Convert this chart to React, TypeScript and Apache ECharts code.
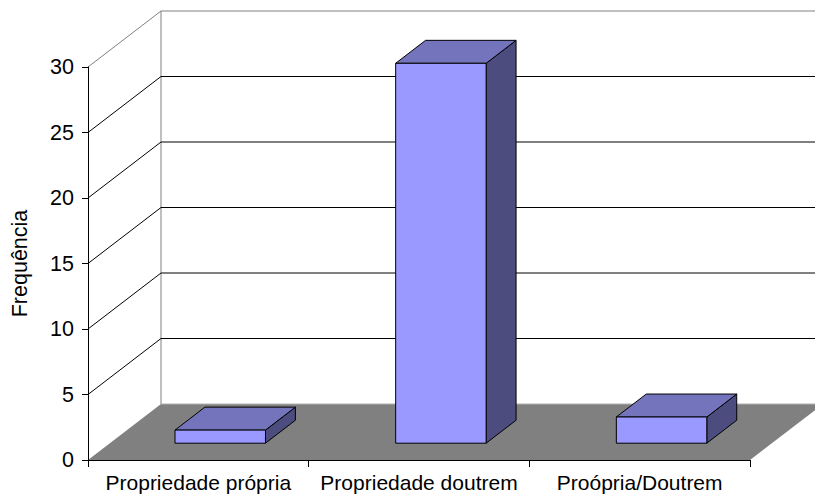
import React, { useEffect, useRef } from "react";
import * as echarts from "echarts";

const categories = ["Propriedade própria", "Propriedade doutrem", "Proópria/Doutrem"];
const frequencies = [1, 29, 2];
const yTicks = [0, 5, 10, 15, 20, 25, 30];
const yAxisName = "Frequência";

const DX = 73;
const DY = -56;
const D0 = 0.3;
const D1 = 0.71;
const BAR_FRAC = 0.41;
const FONT = "Liberation Sans, Arial, sans-serif";

export default function App() {
  const ref = useRef<HTMLDivElement>(null);
  useEffect(() => {
    if (!ref.current) return;
    const chart = echarts.init(ref.current, undefined, { renderer: "svg" });
    const yMax = yTicks[yTicks.length - 1];
    chart.setOption({
      animation: false,
      backgroundColor: "#ffffff",
      grid: { left: 88, right: 65, top: 67, bottom: 37, containLabel: false },
      xAxis: {
        type: "category",
        data: categories,
        z: 10,
        axisLine: { show: true, lineStyle: { color: "#000", width: 1 } },
        axisTick: { show: true, length: 7, lineStyle: { color: "#000" } },
        axisLabel: { color: "#000", fontSize: 21, fontFamily: FONT, margin: 12, interval: 0 },
        splitLine: { show: false },
      },
      yAxis: {
        type: "value",
        min: 0,
        max: yMax,
        interval: 5,
        z: 10,
        name: yAxisName,
        nameLocation: "middle",
        nameRotate: 90,
        nameGap: 57,
        nameTextStyle: { color: "#000", fontSize: 21.5, fontFamily: FONT },
        axisLine: { show: true, lineStyle: { color: "#000", width: 1 } },
        axisTick: { show: true, length: 6, lineStyle: { color: "#000" } },
        axisLabel: { color: "#000", fontSize: 21.5, fontFamily: FONT, margin: 14 },
        splitLine: { show: false },
      },
      series: [
        {
          type: "custom",
          z: 1,
          silent: true,
          data: yTicks.map((v) => [0, v]),
          renderItem: (params: any, api: any) => {
            const cs = params.coordSys;
            const left = cs.x;
            const right = cs.x + cs.width;
            const v = api.value(1);
            const y = api.coord([0, v])[1];
            const children: any[] = [];
            if (v === 0) {
              const yTop = api.coord([0, yMax])[1];
              children.push({
                type: "polygon",
                shape: {
                  points: [
                    [left, y],
                    [right, y],
                    [right + DX, y + DY],
                    [left + DX, y + DY],
                  ],
                },
                style: { fill: "#808080", stroke: "none" },
              });
              children.push({
                type: "line",
                shape: { x1: left + DX, y1: y + DY, x2: right + DX, y2: y + DY },
                style: { stroke: "#b0b0b0", lineWidth: 1 },
              });
              children.push({
                type: "line",
                shape: { x1: left + DX, y1: yTop + DY, x2: left + DX, y2: y + DY },
                style: { stroke: "#808080", lineWidth: 1 },
              });
            } else {
              const color = v === yMax ? "#808080" : "#000000";
              children.push({
                type: "polyline",
                shape: {
                  points: [
                    [left, y],
                    [left + DX, y + DY],
                    [right + DX, y + DY],
                  ],
                },
                style: { stroke: color, lineWidth: 1, fill: "none" },
              });
            }
            return { type: "group", children };
          },
        },
        {
          type: "custom",
          z: 3,
          data: frequencies.map((v, i) => [i, v]),
          renderItem: (params: any, api: any) => {
            const idx = api.value(0);
            const val = api.value(1);
            const c0 = api.coord([idx, 0]);
            const c1 = api.coord([idx, val]);
            const band = api.size([1, 0])[0];
            const w = band * BAR_FRAC;
            const cx = c0[0] + DX * D0;
            const l = cx - w / 2;
            const r = cx + w / 2;
            const b = c0[1] + DY * D0;
            const t = c1[1] + DY * D0;
            const ddx = DX * (D1 - D0);
            const ddy = DY * (D1 - D0);
            const stroke = { stroke: "#000", lineWidth: 1 };
            return {
              type: "group",
              children: [
                {
                  type: "polygon",
                  shape: { points: [[r, t], [r + ddx, t + ddy], [r + ddx, b + ddy], [r, b]] },
                  style: { fill: "#4c4c7e", ...stroke },
                },
                {
                  type: "polygon",
                  shape: { points: [[l, t], [r, t], [r + ddx, t + ddy], [l + ddx, t + ddy]] },
                  style: { fill: "#7474bd", ...stroke },
                },
                {
                  type: "rect",
                  shape: { x: l, y: t, width: r - l, height: b - t },
                  style: { fill: "#9999ff", ...stroke },
                },
              ],
            };
          },
        },
      ],
    });
    return () => chart.dispose();
  }, []);
  return (
    <div
      ref={ref}
      style={{ position: "fixed", left: 0, top: 0, width: 815, height: 497 }}
    />
  );
}
